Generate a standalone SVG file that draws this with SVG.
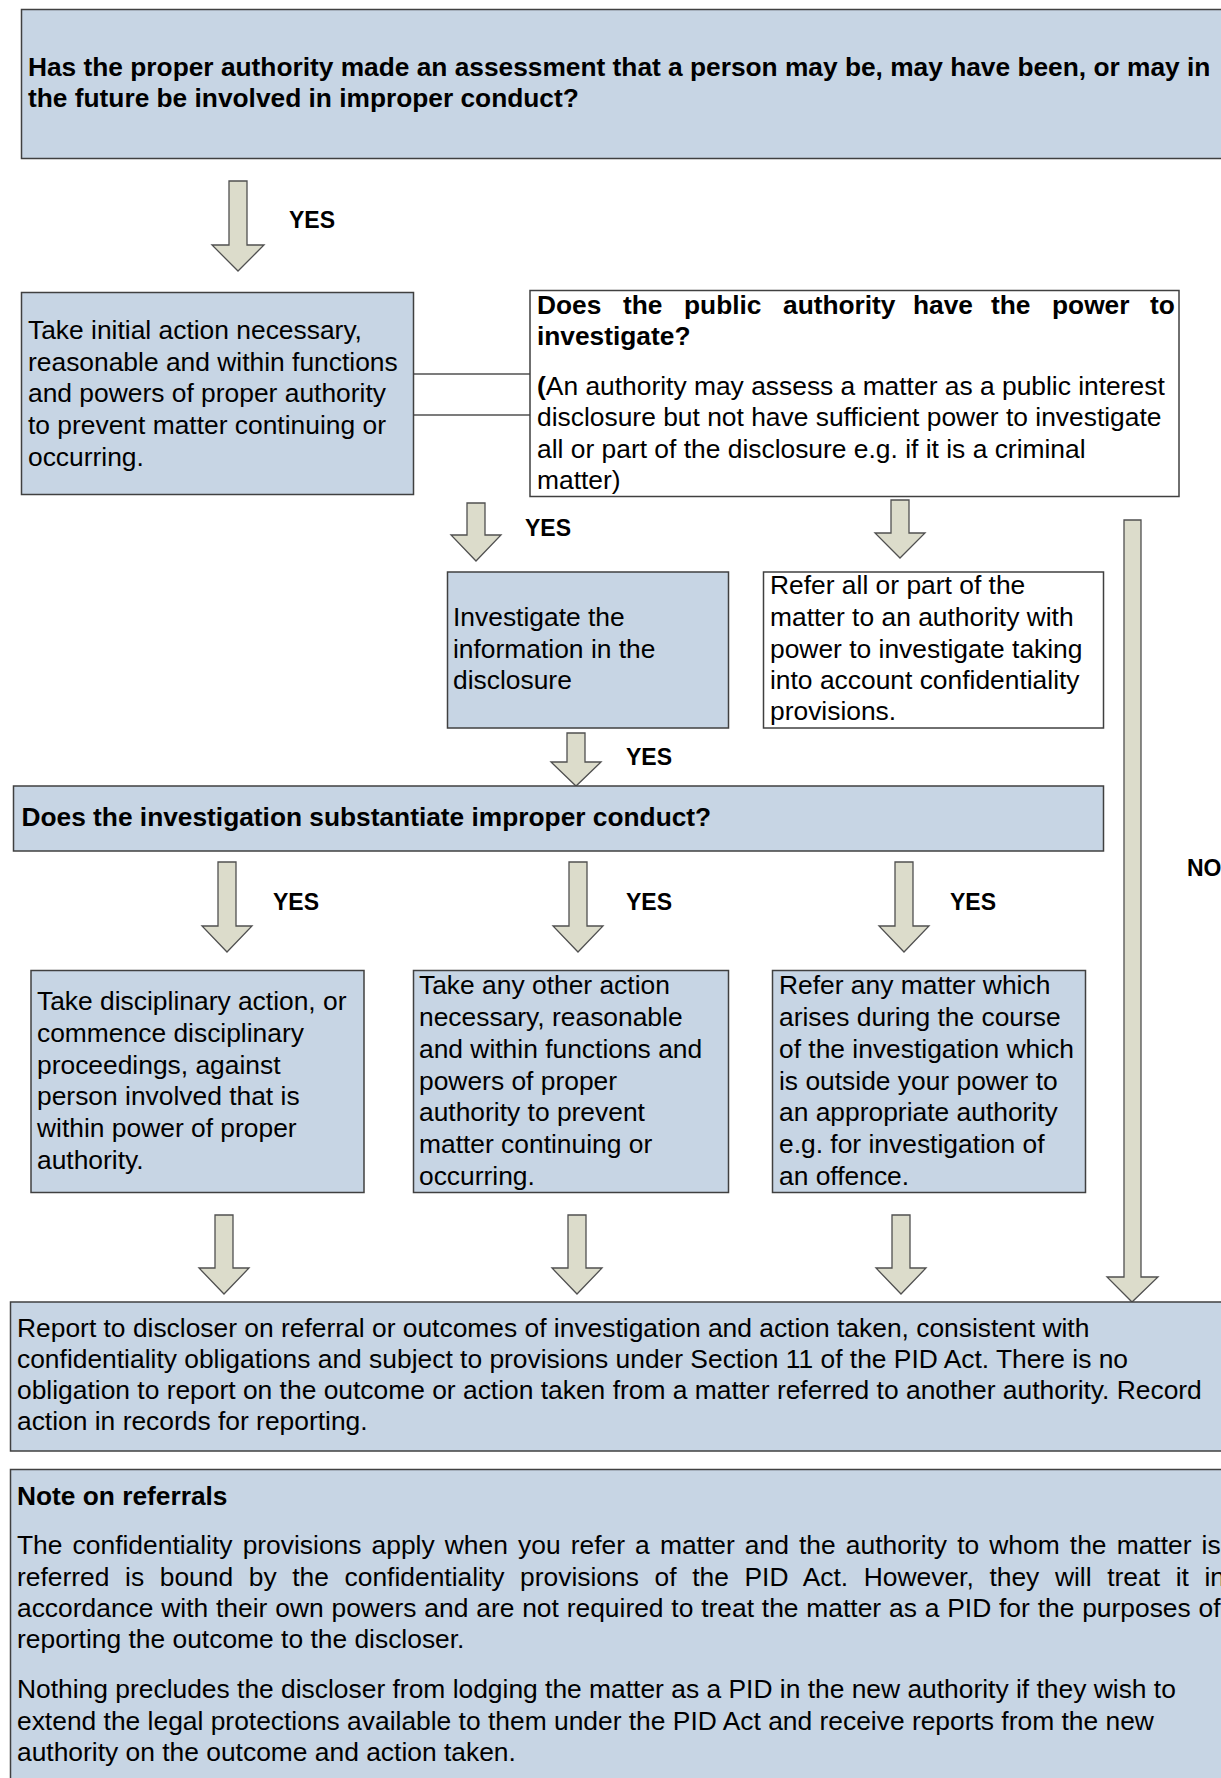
<svg xmlns="http://www.w3.org/2000/svg" width="1221" height="1778" viewBox="0 0 1221 1778">
<style>
.bg{fill:#ffffff}
.blue{fill:#c7d5e4;stroke:#404040;stroke-width:1.5}
.white{fill:#ffffff;stroke:#404040;stroke-width:1.5}
.arrow{fill:#dcdccb;stroke:#505050;stroke-width:1.3;stroke-linejoin:miter}
.line{stroke:#505050;stroke-width:1.5;fill:none}
text{font-family:"Liberation Sans",Arial,sans-serif;fill:#000}
.t{font-size:26.4px}
.b{font-size:26.3px;font-weight:bold}
.yes{font-size:23px;font-weight:bold}
</style>
<rect class="bg" x="0" y="0" width="1221" height="1778"/>

<g id="connectors">
  <line class="line" x1="414" y1="374" x2="530" y2="374"/>
  <line class="line" x1="414" y1="415" x2="530" y2="415"/>
  <polygon class="arrow" points="229,181 247,181 247,245 264,245 238,271 212,245 229,245"/>
  <polygon class="arrow" points="467,503 485,503 485,535 501,535 476,561 451,535 467,535"/>
  <polygon class="arrow" points="891,500 909,500 909,533 925,533 900,558 875,533 891,533"/>
  <polygon class="arrow" points="567,733 585,733 585,762 601,762 576,786 551,762 567,762"/>
  <polygon class="arrow" points="218,862 236,862 236,926 252,926 227,952 202,926 218,926"/>
  <polygon class="arrow" points="569,862 587,862 587,926 603,926 578,952 553,926 569,926"/>
  <polygon class="arrow" points="895,862 913,862 913,926 929,926 904,952 879,926 895,926"/>
  <polygon class="arrow" points="215,1215 233,1215 233,1268 249,1268 224,1294 199,1268 215,1268"/>
  <polygon class="arrow" points="568,1215 586,1215 586,1268 602,1268 577,1294 552,1268 568,1268"/>
  <polygon class="arrow" points="892,1215 910,1215 910,1268 926,1268 901,1294 876,1268 892,1268"/>
  <polygon class="arrow" points="1124,520 1141,520 1141,1277 1158,1277 1132,1302 1107,1277 1124,1277"/>
  <text class="yes" x="289" y="228">YES</text>
  <text class="yes" x="525" y="536">YES</text>
  <text class="yes" x="626" y="765">YES</text>
  <text class="yes" x="273" y="910">YES</text>
  <text class="yes" x="626" y="910">YES</text>
  <text class="yes" x="950" y="910">YES</text>
  <text class="yes" x="1187" y="876">NO</text>
</g>

<g id="node-assessment">
  <rect class="blue" x="21.5" y="9.5" width="1230" height="149"/>
  <text class="b" x="28" y="76">Has the proper authority made an assessment that a person may be, may have been, or may in</text>
  <text class="b" x="28" y="107">the future be involved in improper conduct?</text>
</g>

<g id="node-initial-action">
  <rect class="blue" x="21.5" y="292.5" width="392" height="202"/>
  <text class="t" x="28" y="339">Take initial action necessary,</text>
  <text class="t" x="28" y="371">reasonable and within functions</text>
  <text class="t" x="28" y="402">and powers of proper authority</text>
  <text class="t" x="28" y="434">to prevent matter continuing or</text>
  <text class="t" x="28" y="466">occurring.</text>
</g>

<g id="node-power">
  <rect class="white" x="530" y="290.5" width="649" height="206"/>
  <text class="b" y="314"><tspan x="537">Does</tspan><tspan x="623">the</tspan><tspan x="684">public</tspan><tspan x="783">authority</tspan><tspan x="913">have</tspan><tspan x="991">the</tspan><tspan x="1052">power</tspan><tspan x="1150">to</tspan></text>
  <text class="b" x="537" y="345">investigate?</text>
  <text class="t" x="537" y="395"><tspan font-weight="bold">(</tspan>An authority may assess a matter as a public interest</text>
  <text class="t" x="537" y="426">disclosure but not have sufficient power to investigate</text>
  <text class="t" x="537" y="458">all or part of the disclosure e.g. if it is a criminal</text>
  <text class="t" x="537" y="489">matter)</text>
</g>

<g id="node-investigate">
  <rect class="blue" x="447.5" y="572" width="281" height="156"/>
  <text class="t" x="453" y="626">Investigate the</text>
  <text class="t" x="453" y="658">information in the</text>
  <text class="t" x="453" y="689">disclosure</text>
</g>

<g id="node-refer">
  <rect class="white" x="763.5" y="572" width="340" height="156"/>
  <text class="t" x="770" y="594">Refer all or part of the</text>
  <text class="t" x="770" y="626">matter to an authority with</text>
  <text class="t" x="770" y="658">power to investigate taking</text>
  <text class="t" x="770" y="689">into account confidentiality</text>
  <text class="t" x="770" y="720">provisions.</text>
</g>

<g id="node-substantiate">
  <rect class="blue" x="13.5" y="786" width="1090" height="65"/>
  <text class="b" x="21.5" y="826">Does the investigation substantiate improper conduct?</text>
</g>

<g id="node-disciplinary">
  <rect class="blue" x="31" y="970.5" width="333" height="222"/>
  <text class="t" x="37" y="1010">Take disciplinary action, or</text>
  <text class="t" x="37" y="1042">commence disciplinary</text>
  <text class="t" x="37" y="1074">proceedings, against</text>
  <text class="t" x="37" y="1105">person involved that is</text>
  <text class="t" x="37" y="1137">within power of proper</text>
  <text class="t" x="37" y="1169">authority.</text>
</g>

<g id="node-other-action">
  <rect class="blue" x="413.5" y="970.5" width="315" height="222"/>
  <text class="t" x="419" y="994">Take any other action</text>
  <text class="t" x="419" y="1026">necessary, reasonable</text>
  <text class="t" x="419" y="1058">and within functions and</text>
  <text class="t" x="419" y="1090">powers of proper</text>
  <text class="t" x="419" y="1121">authority to prevent</text>
  <text class="t" x="419" y="1153">matter continuing or</text>
  <text class="t" x="419" y="1185">occurring.</text>
</g>

<g id="node-refer-matter">
  <rect class="blue" x="772.5" y="970.5" width="313" height="222"/>
  <text class="t" x="779" y="994">Refer any matter which</text>
  <text class="t" x="779" y="1026">arises during the course</text>
  <text class="t" x="779" y="1058">of the investigation which</text>
  <text class="t" x="779" y="1090">is outside your power to</text>
  <text class="t" x="779" y="1121">an appropriate authority</text>
  <text class="t" x="779" y="1153">e.g. for investigation of</text>
  <text class="t" x="779" y="1185">an offence.</text>
</g>

<g id="node-report">
  <rect class="blue" x="10.5" y="1302" width="1240" height="149"/>
  <text class="t" x="17" y="1337">Report to discloser on referral or outcomes of investigation and action taken, consistent with</text>
  <text class="t" x="17" y="1368">confidentiality obligations and subject to provisions under Section 11 of the PID Act. There is no</text>
  <text class="t" x="17" y="1399">obligation to report on the outcome or action taken from a matter referred to another authority. Record</text>
  <text class="t" x="17" y="1430">action in records for reporting.</text>
</g>

<g id="node-note">
  <rect class="blue" x="10.5" y="1469.5" width="1240" height="330"/>
  <text class="b" x="17" y="1505">Note on referrals</text>
  <text class="t" x="17" y="1554" style="word-spacing:2.8px">The confidentiality provisions apply when you refer a matter and the authority to whom the matter is</text>
  <text class="t" x="17" y="1586" style="word-spacing:8.3px">referred is bound by the confidentiality provisions of the PID Act. However, they will treat it in</text>
  <text class="t" x="17" y="1617" style="word-spacing:0.5px">accordance with their own powers and are not required to treat the matter as a PID for the purposes of</text>
  <text class="t" x="17" y="1648">reporting the outcome to the discloser.</text>
  <text class="t" x="17" y="1698">Nothing precludes the discloser from lodging the matter as a PID in the new authority if they wish to</text>
  <text class="t" x="17" y="1730">extend the legal protections available to them under the PID Act and receive reports from the new</text>
  <text class="t" x="17" y="1761">authority on the outcome and action taken.</text>
</g>
</svg>
